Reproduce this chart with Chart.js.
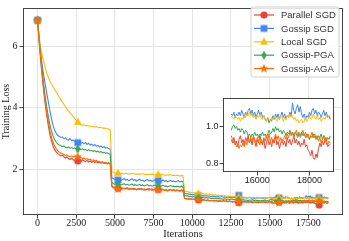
<!DOCTYPE html>
<html>
<head>
<meta charset="utf-8">
<script src="https://cdn.jsdelivr.net/npm/chart.js@4"></script>
<style>
  html, body { margin: 0; padding: 0; background: #fff; }
  #wrap { position: relative; width: 349px; height: 241px; }
  #main { position: absolute; left: 0; top: 0; width: 349px; height: 241px; }
  #inset { position: absolute; left: 196px; top: 92px; width: 150px; height: 100px; }
</style>
</head>
<body>
<div id="wrap">
  <canvas id="main" width="349" height="241"></canvas>
  <canvas id="inset" width="150" height="100"></canvas>
</div>
<script>
// iterations: every 100 up to 14900, then every 50 from 15000 to 18800
const headStep = 100, headCount = 150;
const tailStart = 15000, tailStep = 50, tailCount = 77;
const headIters = Array.from({ length: headCount }, (_, i) => i * headStep);
const tailIters = Array.from({ length: tailCount }, (_, j) => tailStart + j * tailStep);

const xTicks = [0, 2500, 5000, 7500, 10000, 12500, 15000, 17500];
const yTicks = [2, 4, 6];
const insetXTicks = [16000, 18000];
const insetYTicks = [0.8, 1.0];
const markIters = [0, 2600, 5200, 7800, 10400, 13000, 15600, 18200];

const seriesNames = ["Parallel SGD", "Gossip SGD", "Local SGD", "Gossip-PGA", "Gossip-AGA"];
const seriesColors = ["#EA4335", "#4285F4", "#FBBC04", "#34A853", "#FF6D01"];
const seriesMarkers = ["circle", "square", "triangle", "diamond", "star"];

const parallelHead = [
  6.85,6.15,5.55,5.0,4.52,4.1,3.72,3.4,3.12,2.92,
  2.76,2.64,2.56,2.5,2.47,2.43,2.45,2.4,2.36,2.39,
  2.34,2.31,2.35,2.3,2.28,2.32,2.26,2.29,2.25,2.3,
  2.27,2.24,2.28,2.23,2.26,2.22,2.25,2.21,2.24,2.2,
  2.23,2.19,2.21,2.18,2.2,2.17,2.19,2.16,1.45,1.41,
  1.38,1.4,1.37,1.39,1.36,1.38,1.35,1.37,1.39,1.35,
  1.36,1.34,1.37,1.35,1.33,1.36,1.34,1.36,1.33,1.35,
  1.32,1.34,1.36,1.33,1.35,1.32,1.34,1.31,1.33,1.35,
  1.32,1.34,1.31,1.33,1.3,1.32,1.34,1.31,1.33,1.3,
  1.32,1.31,1.29,1.32,1.3,1.05,1.03,1.04,1.02,1.03,
  1.01,1.02,1.0,1.02,0.99,1.01,0.98,1.0,0.99,0.97,
  0.99,0.96,0.98,0.97,0.95,0.97,0.96,0.94,0.96,0.95,
  0.97,0.94,0.96,0.93,0.95,0.94,0.92,0.94,0.91,0.93,
  0.9,0.93,0.91,0.94,0.92,0.93,0.91,0.93,0.92,0.9,
  0.93,0.91,0.92,0.9,0.93,0.91,0.93,0.9,0.92,0.91
];
const parallelTail = [
  0.93,0.91,0.94,0.9,0.92,0.89,0.93,0.95,0.91,0.93,
  0.9,0.94,0.92,0.95,0.91,0.93,0.9,0.94,0.92,0.89,
  0.93,0.91,0.95,0.92,0.9,0.93,0.88,0.91,0.94,0.9,
  0.92,0.89,0.93,0.91,0.95,0.9,0.92,0.88,0.91,0.93,
  0.9,0.92,0.89,0.94,0.91,0.93,0.9,0.92,0.95,0.91,
  0.93,0.9,0.92,0.89,0.91,0.9,0.93,0.89,0.9,0.87,
  0.86,0.84,0.87,0.83,0.82,0.85,0.83,0.88,0.91,0.89,
  0.92,0.9,0.93,0.91,0.89,0.9,0.9
];

const gossipHead = [
  6.85,6.3,5.8,5.38,5.05,4.75,4.46,4.18,3.9,3.64,
  3.42,3.27,3.17,3.1,3.06,3.03,3.05,2.99,3.02,2.96,
  2.94,2.99,2.92,2.95,2.9,2.88,2.86,2.93,2.84,2.87,
  2.82,2.86,2.8,2.84,2.78,2.81,2.76,2.8,2.74,2.77,
  2.72,2.75,2.7,2.73,2.68,2.7,2.66,2.65,1.72,1.68,
  1.66,1.69,1.64,1.67,1.63,1.66,1.69,1.64,1.66,1.62,
  1.65,1.68,1.63,1.65,1.61,1.64,1.67,1.62,1.64,1.6,
  1.63,1.66,1.61,1.63,1.6,1.62,1.65,1.6,1.62,1.59,
  1.61,1.64,1.6,1.62,1.58,1.61,1.63,1.59,1.61,1.58,
  1.6,1.62,1.58,1.6,1.59,1.22,1.19,1.2,1.17,1.18,
  1.16,1.17,1.15,1.16,1.13,1.15,1.13,1.14,1.12,1.13,
  1.11,1.12,1.1,1.12,1.1,1.11,1.09,1.1,1.08,1.1,
  1.08,1.09,1.07,1.09,1.07,1.08,1.06,1.08,1.06,1.08,
  1.14,1.06,1.07,1.05,1.07,1.05,1.06,1.08,1.05,1.06,
  1.04,1.06,1.05,1.07,1.05,1.06,1.04,1.06,1.05,1.07
];
const gossipTail = [
  1.07,1.06,1.08,1.05,1.07,1.06,1.08,1.06,1.09,1.07,
  1.05,1.08,1.06,1.09,1.1,1.07,1.09,1.06,1.08,1.05,
  1.07,1.09,1.06,1.08,1.05,1.06,1.04,1.03,1.05,1.02,
  1.04,1.03,1.06,1.04,1.07,1.05,1.07,1.04,1.06,1.08,
  1.05,1.07,1.04,1.06,1.05,1.08,1.06,1.13,1.09,1.07,
  1.1,1.12,1.08,1.11,1.07,1.05,1.07,1.04,1.06,1.05,
  1.08,1.06,1.09,1.1,1.07,1.09,1.06,1.08,1.07,1.05,
  1.07,1.09,1.06,1.08,1.05,1.06,1.04
];

const localHead = [
  6.85,6.3,5.95,5.7,5.5,5.3,5.12,4.98,4.87,4.77,
  4.68,4.6,4.51,4.43,4.35,4.27,4.19,4.11,4.03,3.96,
  3.89,3.83,3.77,3.71,3.65,3.59,3.53,3.48,3.45,3.43,
  3.44,3.41,3.42,3.4,3.41,3.38,3.39,3.37,3.38,3.36,
  3.35,3.36,3.33,3.34,3.32,3.31,3.3,3.29,1.92,1.89,
  1.87,1.88,1.86,1.87,1.85,1.86,1.84,1.86,1.85,1.83,
  1.85,1.84,1.86,1.83,1.84,1.82,1.84,1.83,1.85,1.82,
  1.83,1.81,1.83,1.82,1.84,1.81,1.82,1.8,1.82,1.81,
  1.83,1.8,1.81,1.79,1.81,1.8,1.82,1.79,1.8,1.78,
  1.8,1.79,1.77,1.79,1.78,1.3,1.27,1.26,1.24,1.25,
  1.22,1.23,1.21,1.22,1.2,1.21,1.19,1.2,1.18,1.19,
  1.17,1.18,1.16,1.17,1.15,1.16,1.14,1.15,1.13,1.14,
  1.12,1.13,1.11,1.12,1.1,1.11,1.1,1.11,1.09,1.1,
  1.08,1.09,1.08,1.09,1.07,1.08,1.07,1.08,1.06,1.08,
  1.07,1.06,1.08,1.06,1.07,1.05,1.07,1.06,1.05,1.07
];
const localTail = [
  1.06,1.05,1.04,1.06,1.05,1.04,1.05,1.03,1.05,1.04,
  1.06,1.05,1.07,1.06,1.08,1.06,1.07,1.05,1.06,1.04,
  1.06,1.05,1.07,1.05,1.04,1.06,1.04,1.03,1.05,1.04,
  1.03,1.05,1.04,1.06,1.04,1.03,1.05,1.04,1.06,1.05,
  1.03,1.05,1.04,1.06,1.05,1.07,1.05,1.06,1.04,1.05,
  1.03,1.04,1.02,1.03,1.04,1.02,1.03,1.05,1.03,1.04,
  1.06,1.04,1.05,1.07,1.05,1.04,1.06,1.04,1.05,1.03,
  1.04,1.05,1.04,1.06,1.05,1.06,1.05
];

const pgaHead = [
  6.85,6.25,5.7,5.2,4.75,4.35,4.0,3.7,3.44,3.24,
  3.08,2.96,2.88,2.82,2.78,2.76,2.73,2.75,2.71,2.69,
  2.72,2.68,2.7,2.67,2.69,2.66,2.65,2.68,2.63,2.66,
  2.62,2.64,2.6,2.63,2.59,2.61,2.57,2.6,2.56,2.58,
  2.54,2.57,2.53,2.55,2.51,2.53,2.5,2.49,1.56,1.52,
  1.5,1.53,1.49,1.51,1.48,1.5,1.52,1.48,1.5,1.47,
  1.49,1.51,1.47,1.49,1.46,1.48,1.5,1.46,1.48,1.45,
  1.47,1.49,1.45,1.47,1.44,1.46,1.48,1.44,1.46,1.43,
  1.45,1.47,1.44,1.45,1.42,1.44,1.46,1.43,1.44,1.42,
  1.44,1.43,1.41,1.44,1.42,1.14,1.12,1.13,1.1,1.11,
  1.09,1.1,1.08,1.09,1.07,1.08,1.06,1.08,1.05,1.07,
  1.05,1.06,1.04,1.05,1.03,1.05,1.03,1.04,1.02,1.03,
  1.01,1.03,1.01,1.02,1.0,1.02,1.0,1.01,0.99,1.01,
  0.99,1.0,0.98,1.0,0.98,0.99,0.97,0.99,0.98,1.0,
  0.97,0.99,0.97,0.98,0.96,0.98,0.97,0.99,0.96,0.98
];
const pgaTail = [
  0.98,1.0,1.01,0.99,1.0,0.98,0.99,0.97,0.99,0.98,
  0.96,0.98,0.97,0.95,0.96,0.94,0.96,0.95,0.97,0.95,
  0.96,0.94,0.96,0.95,0.97,0.95,0.96,0.94,0.96,0.98,
  0.96,0.97,0.99,0.97,1.0,0.98,0.99,0.97,0.98,0.96,
  0.98,0.97,0.95,0.97,0.96,0.98,0.96,0.97,0.95,0.97,
  0.96,0.94,0.96,0.95,0.97,0.95,0.96,0.94,0.96,0.95,
  0.93,0.95,0.94,0.96,0.94,0.95,0.93,0.95,0.94,0.96,
  0.93,0.95,0.94,0.92,0.94,0.93,0.95
];

const agaHead = [
  6.85,6.25,5.65,5.1,4.62,4.2,3.84,3.52,3.25,3.04,
  2.88,2.76,2.67,2.6,2.55,2.52,2.5,2.47,2.44,2.46,
  2.42,2.4,2.43,2.39,2.41,2.38,2.4,2.36,2.38,2.34,
  2.36,2.32,2.34,2.3,2.32,2.28,2.3,2.26,2.28,2.24,
  2.25,2.22,2.24,2.2,2.22,2.19,2.2,2.18,1.42,1.38,
  1.36,1.38,1.35,1.37,1.34,1.36,1.38,1.34,1.36,1.33,
  1.35,1.37,1.33,1.35,1.32,1.34,1.36,1.32,1.34,1.31,
  1.33,1.35,1.31,1.33,1.3,1.32,1.34,1.3,1.32,1.29,
  1.31,1.33,1.3,1.31,1.28,1.3,1.32,1.29,1.31,1.28,
  1.3,1.29,1.27,1.3,1.28,1.04,1.02,1.03,1.01,1.02,
  1.0,1.02,0.99,1.01,1.0,0.98,1.0,0.98,0.99,0.97,
  0.99,0.97,0.96,0.98,0.96,0.97,0.95,0.97,0.96,0.94,
  0.96,0.95,0.97,0.94,0.96,0.95,0.93,0.95,0.94,0.96,
  0.93,0.95,0.94,0.92,0.94,0.93,0.95,0.92,0.94,0.93,
  0.91,0.93,0.92,0.94,0.91,0.93,0.92,0.94,0.91,0.93
];
const agaTail = [
  0.95,0.93,0.91,0.92,0.89,0.9,0.88,0.9,0.89,0.91,
  0.89,0.92,0.9,0.93,0.91,0.94,0.92,0.95,0.93,0.91,
  0.94,0.92,0.9,0.93,0.91,0.94,0.92,0.95,0.93,0.96,
  0.92,0.94,0.91,0.93,0.96,0.93,0.95,0.92,0.94,0.91,
  0.93,0.95,0.93,0.96,0.94,0.97,0.95,0.97,0.94,0.96,
  0.98,0.95,0.97,0.94,0.96,0.98,0.95,0.97,0.94,0.96,
  0.93,0.95,0.97,0.94,0.96,0.93,0.95,0.92,0.94,0.91,
  0.93,0.95,0.92,0.94,0.9,0.92,0.91
];

const heads = [parallelHead, gossipHead, localHead, pgaHead, agaHead];
const tails = [parallelTail, gossipTail, localTail, pgaTail, agaTail];

const serif = "Liberation Serif";
const sans = "Liberation Sans";

function makeMarker(shape, color) {
  const s = 12, m = s / 2;
  const c = document.createElement("canvas");
  c.width = s; c.height = s;
  const g = c.getContext("2d");
  g.fillStyle = color;
  g.beginPath();
  if (shape === "circle") {
    g.arc(m, m, 3.6, 0, Math.PI * 2);
  } else if (shape === "square") {
    g.rect(m - 3.4, m - 3.4, 6.8, 6.8);
  } else if (shape === "triangle") {
    g.moveTo(m, m - 4.4); g.lineTo(m + 4, m + 2.8); g.lineTo(m - 4, m + 2.8); g.closePath();
  } else if (shape === "diamond") {
    g.moveTo(m, m - 4.4); g.lineTo(m + 2.7, m); g.lineTo(m, m + 4.4); g.lineTo(m - 2.7, m); g.closePath();
  } else {
    for (let k = 0; k < 10; k++) {
      const r = k % 2 ? 2 : 4.8;
      const a = -Math.PI / 2 + k * Math.PI / 5;
      const px = m + r * Math.cos(a), py = m + r * Math.sin(a);
      if (k) g.lineTo(px, py); else g.moveTo(px, py);
    }
    g.closePath();
  }
  g.fill();
  return c;
}

const markerImgs = seriesMarkers.map((m, i) => makeMarker(m, seriesColors[i]));

function pointsFor(i) {
  const pts = headIters.map((x, k) => ({ x: x, y: heads[i][k] }));
  return pts.concat(tailIters.map((x, k) => ({ x: x, y: tails[i][k] })));
}

const framePlugin = {
  id: "frame",
  afterDatasetsDraw(chart) {
    const { ctx, chartArea: a } = chart;
    ctx.save();
    ctx.strokeStyle = "#444";
    ctx.lineWidth = 1;
    ctx.strokeRect(Math.round(a.left) + 0.5, Math.round(a.top) + 0.5,
      Math.round(a.right - a.left) - 1, Math.round(a.bottom - a.top) - 1);
    ctx.restore();
  }
};

const legendPlugin = {
  id: "boxLegend",
  afterDraw(chart) {
    const ctx = chart.ctx;
    const bx = 251, by = 7, bw = 88, bh = 70, r = 2;
    ctx.save();
    ctx.beginPath();
    ctx.moveTo(bx + r, by);
    ctx.arcTo(bx + bw, by, bx + bw, by + bh, r);
    ctx.arcTo(bx + bw, by + bh, bx, by + bh, r);
    ctx.arcTo(bx, by + bh, bx, by, r);
    ctx.arcTo(bx, by, bx + bw, by, r);
    ctx.closePath();
    ctx.fillStyle = "rgba(255,255,255,0.85)";
    ctx.fill();
    ctx.strokeStyle = "#d0d0d0";
    ctx.lineWidth = 1;
    ctx.stroke();
    ctx.font = "9.5px " + sans;
    ctx.textBaseline = "middle";
    ctx.textAlign = "left";
    seriesNames.forEach((name, i) => {
      const y = 15 + i * 13.4;
      ctx.strokeStyle = seriesColors[i];
      ctx.lineWidth = 1.2;
      ctx.beginPath();
      ctx.moveTo(254, y);
      ctx.lineTo(274, y);
      ctx.stroke();
      const img = markerImgs[i];
      ctx.drawImage(img, 264 - img.width / 2, y - img.height / 2);
      ctx.fillStyle = "#333";
      ctx.fillText(name, 281, y + 0.5);
    });
    ctx.restore();
  }
};

new Chart(document.getElementById("main"), {
  type: "line",
  data: {
    datasets: seriesNames.map((name, i) => ({
      label: name,
      data: pointsFor(i),
      borderColor: seriesColors[i],
      backgroundColor: seriesColors[i],
      borderWidth: 1.1,
      pointStyle: markerImgs[i],
      pointRadius: (c) => (c.raw && markIters.includes(c.raw.x)) ? 4 : 0,
      pointHoverRadius: 0,
      order: 4 - i,
      tension: 0
    }))
  },
  options: {
    responsive: false,
    animation: false,
    devicePixelRatio: 1,
    events: [],
    layout: { padding: { left: 0, top: 3, right: 6, bottom: 0 } },
    plugins: { legend: { display: false }, tooltip: { enabled: false } },
    scales: {
      x: {
        type: "linear",
        min: -940,
        max: 19740,
        afterBuildTicks: (s) => { s.ticks = xTicks.map((v) => ({ value: v })); },
        afterFit: (s) => { s.height = 26; },
        grid: { color: "#e4e4e4", lineWidth: 1, tickColor: "#444", tickLength: 3.5 },
        border: { display: false },
        ticks: {
          font: { family: serif, size: 10 },
          color: "#222",
          padding: -1.5,
          maxRotation: 0,
          autoSkip: false,
          callback: (v) => String(v)
        },
        title: {
          display: true,
          text: "Iterations",
          font: { family: serif, size: 10.5 },
          color: "#222",
          padding: 0
        }
      },
      y: {
        type: "linear",
        min: 0.5,
        max: 7.25,
        afterBuildTicks: (s) => { s.ticks = yTicks.map((v) => ({ value: v })); },
        afterFit: (s) => { s.width = 23; },
        grid: { color: "#e4e4e4", lineWidth: 1, tickColor: "#444", tickLength: 3.5 },
        border: { display: false },
        ticks: {
          font: { family: serif, size: 10 },
          color: "#222",
          padding: 2,
          callback: (v) => String(v)
        },
        title: {
          display: true,
          text: "Training Loss",
          font: { family: serif, size: 10 },
          color: "#222",
          padding: 0
        }
      }
    }
  },
  plugins: [framePlugin, legendPlugin]
});

const whiteArea = {
  id: "whiteArea",
  beforeDraw(chart) {
    const { ctx, chartArea: a } = chart;
    ctx.save();
    ctx.fillStyle = "#fff";
    ctx.fillRect(a.left, a.top, a.right - a.left, a.bottom - a.top);
    ctx.restore();
  }
};

new Chart(document.getElementById("inset"), {
  type: "line",
  data: {
    datasets: seriesNames.map((name, i) => ({
      label: name,
      data: tailIters.map((x, k) => ({ x: x, y: tails[i][k] })),
      borderColor: seriesColors[i],
      borderWidth: 1,
      pointRadius: 0,
      pointHoverRadius: 0,
      order: 4 - i,
      tension: 0
    }))
  },
  options: {
    responsive: false,
    animation: false,
    devicePixelRatio: 1,
    events: [],
    layout: { padding: { left: 0, top: 6, right: 12, bottom: 0 } },
    plugins: { legend: { display: false }, tooltip: { enabled: false } },
    scales: {
      x: {
        type: "linear",
        min: 14683,
        max: 18944,
        afterBuildTicks: (s) => { s.ticks = insetXTicks.map((v) => ({ value: v })); },
        afterFit: (s) => { s.height = 20; },
        grid: { drawOnChartArea: false, tickColor: "#444", tickLength: 3.5 },
        border: { display: false },
        ticks: {
          font: { family: sans, size: 9 },
          color: "#222",
          padding: 0,
          maxRotation: 0,
          autoSkip: false,
          callback: (v) => String(v)
        }
      },
      y: {
        type: "linear",
        min: 0.751,
        max: 1.155,
        afterBuildTicks: (s) => { s.ticks = insetYTicks.map((v) => ({ value: v })); },
        afterFit: (s) => { s.width = 27; },
        grid: { drawOnChartArea: false, tickColor: "#444", tickLength: 3.5 },
        border: { display: false },
        ticks: {
          font: { family: sans, size: 9 },
          color: "#222",
          padding: 1,
          callback: (v) => v.toFixed(1)
        }
      }
    }
  },
  plugins: [whiteArea, framePlugin]
});
</script>
</body>
</html>
